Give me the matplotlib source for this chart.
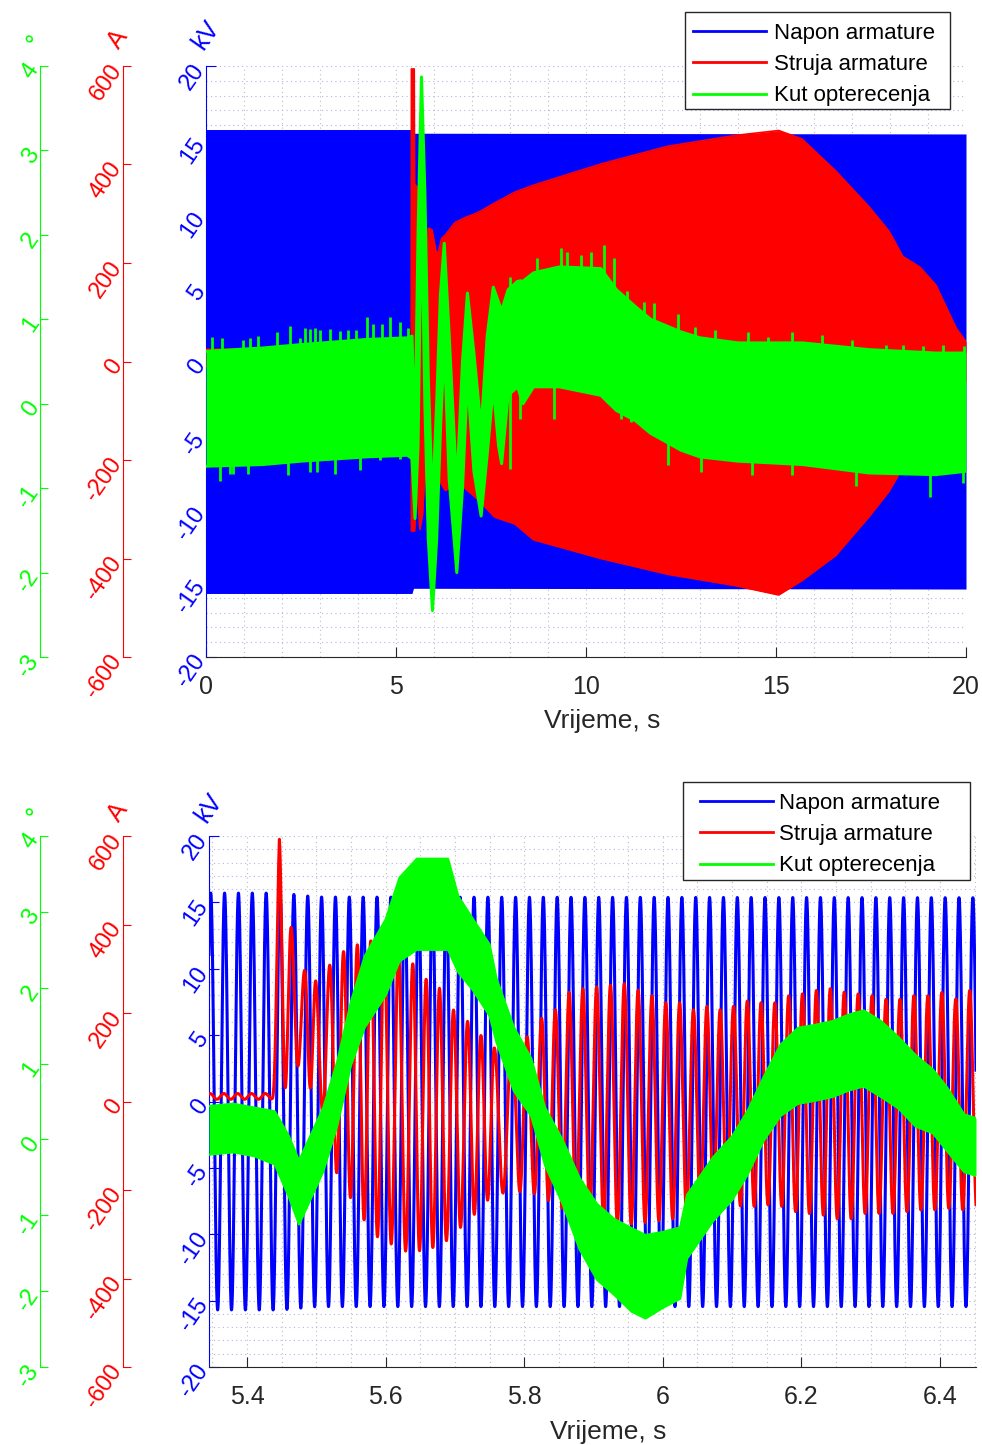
import numpy as np
import matplotlib.pyplot as plt
from matplotlib.lines import Line2D
from matplotlib.patches import Rectangle
from matplotlib.ticker import MultipleLocator

plt.rcParams['font.family'] = ['Liberation Sans', 'DejaVu Sans']

BLUE = '#0000ff'
RED = '#ff0000'
GREEN = '#00ff00'
INK = '#262626'

# ---------------- top panel, 0..20 s (envelopes of the dense traces)
v_t = [0, 5.42, 5.46, 20]
v_hi = [15.7, 15.7, 15.45, 15.4]
v_lo = [-15.7, -15.7, -15.35, -15.4]

i_t = [0, 5.40, 5.405, 5.48, 5.49, 5.55, 5.63, 5.70, 5.76, 5.85, 5.95, 6.05, 6.11, 6.20, 6.30,
       6.55, 6.81, 7.08, 7.24, 7.60, 8.13, 8.62, 10.39, 12.15, 13.92, 15.07, 15.68, 16.57,
       17.45, 17.97, 18.34, 18.78, 19.21, 19.74, 20.0]
i_hi = [25, 25, 594, 594, 360, 355, 330, 240, 150, 271, 267, 225, 220, 250, 257,
        282, 292, 300, 306, 322, 344, 358, 401, 437, 459, 469, 452, 387,
        314, 265, 213, 192, 155, 68, 40]
i_lo = [-10, -10, -344, -344, -344, -260, -341, -310, -230, -250, -277, -245, -235, -250, -262,
        -252, -257, -275, -287, -316, -330, -362, -400, -432, -455, -474, -445, -394,
        -315, -264, -215, -170, -120, -60, -40]

d_t = [0, 1.5, 2.5, 4.2, 5.3, 5.42, 5.5, 5.58, 5.67, 5.76, 5.85, 5.96, 6.07, 6.17, 6.27,
       6.4, 6.6, 6.75, 6.88, 7.05, 7.24, 7.4, 7.56, 7.7, 7.78, 7.95, 8.2, 8.34, 8.62, 9.3,
       10.39, 10.8, 11.3, 11.7, 12.5, 13.0, 14.0, 15.7, 17.45, 19.2, 20.0]
d_hi = [0.62, 0.66, 0.70, 0.76, 0.78, 0.80, -0.4, 2.0, 3.87, 2.5, 0.3, -1.2, 0.0, 1.3, 1.9,
        0.8, -1.0, 0.5, 1.31, 0.6, -0.3, 0.8, 1.38, 1.2, 1.1, 1.35, 1.45, 1.45, 1.55, 1.62,
        1.60, 1.35, 1.15, 1.0, 0.85, 0.78, 0.72, 0.72, 0.64, 0.60, 0.60]
d_lo = [-0.74, -0.72, -0.68, -0.63, -0.61, -0.65, -1.36, -0.5, 2.4, 0.0, -1.6, -2.45, -1.6, -0.3, 0.7,
        -0.9, -2.0, -1.0, 0.3, -0.8, -1.33, -0.6, 0.2, -0.5, -0.71, 0.1, 0.2, 0.0, 0.2, 0.2,
        0.10, -0.08, -0.2, -0.35, -0.55, -0.63, -0.68, -0.72, -0.82, -0.84, -0.80]
# single noise spikes sticking out of the load-angle band
d_up_t = [0.15, 0.41, 0.98, 1.16, 1.38, 1.86, 2.21, 2.47, 2.61, 2.74, 2.87, 3.0, 3.26, 3.53,
          3.74, 3.96, 4.23, 4.4, 4.62, 4.84, 5.1, 5.32,
          8.0, 8.27, 8.71, 9.33, 9.5, 9.86, 10.12, 10.47, 10.74, 11.09, 11.53, 11.8, 12.42,
          12.86, 13.39, 14.27, 14.8, 15.42, 16.21, 17.01, 17.89, 18.33, 18.86, 19.39, 19.95]
d_up = [0.79, 0.78, 0.75, 0.78, 0.80, 0.85, 0.92, 0.78, 0.90, 0.88, 0.90, 0.87, 0.88, 0.86,
        0.87, 0.87, 1.03, 0.95, 0.95, 1.03, 0.97, 0.90,
        1.50, 1.48, 1.72, 1.84, 1.80, 1.76, 1.80, 1.88, 1.72, 1.34, 1.21, 1.19, 1.06,
        0.91, 0.87, 0.85, 0.79, 0.85, 0.81, 0.75, 0.70, 0.70, 0.68, 0.70, 0.68]
d_dn_t = [0.37, 0.63, 0.72, 1.11, 2.17, 2.74, 2.91, 3.39, 4.05, 4.58, 5.1,
          8.0, 8.27, 9.15, 10.92, 11.18, 12.15, 13.03, 14.36, 15.42, 17.1, 19.04, 19.92]
d_dn = [-0.92, -0.83, -0.83, -0.83, -0.85, -0.81, -0.81, -0.83, -0.79, -0.67, -0.65,
        -0.77, -0.18, -0.18, -0.18, -0.22, -0.73, -0.81, -0.84, -0.84, -0.98, -1.11, -0.94]

# ---------------- bottom panel, zoom 5.345..6.452 s
f_net = 50.0          # Hz, counted from the voltage peaks
v_peak_t0 = 5.3475    # time of a voltage maximum
bv_t = [5.345, 5.45, 5.50, 6.452]
bv_hi = [15.7, 15.7, 15.4, 15.35]
bv_lo = [-15.7, -15.7, -15.45, -15.45]

# current: upper / lower peaks
bi_hi_t = [5.345, 5.435, 5.4466, 5.4666, 5.4866, 5.4981, 5.5192, 5.5394, 5.5591, 5.5779, 5.5977,
           5.6177, 5.6392, 5.6585, 5.6776, 5.6968, 5.7183, 5.7376, 5.7568, 5.78, 5.803, 5.825,
           5.845, 5.865, 5.885, 5.904, 5.925, 5.944, 5.965, 5.984, 6.004, 6.025, 6.044, 6.064,
           6.083, 6.102, 6.122, 6.143, 6.163, 6.182, 6.201, 6.222, 6.242, 6.262, 6.281, 6.302,
           6.321, 6.342, 6.362, 6.383, 6.402, 6.422, 6.443, 6.452]
bi_hi = [18, 18, 595, 361, 282, 271, 308, 339, 354, 363, 358,
         343, 311, 276, 256, 208, 181, 149, 121, 140, 144, 188,
         207, 247, 255, 259, 263, 267, 251, 239, 223, 223, 207, 215,
         207, 215, 227, 223, 223, 239, 243, 251, 255, 247, 243, 239,
         231, 231, 239, 239, 247, 231, 251, 251]
bi_lo_t = [5.345, 5.435, 5.4566, 5.476, 5.4904, 5.5096, 5.5289, 5.5495, 5.5686, 5.5888, 5.6081,
           5.6269, 5.6463, 5.668, 5.6873, 5.7064, 5.728, 5.7496, 5.78, 5.82, 5.854, 5.895,
           5.914, 5.934, 5.955, 5.975, 5.995, 6.015, 6.035, 6.054, 6.073, 6.094, 6.114, 6.134,
           6.153, 6.172, 6.192, 6.211, 6.233, 6.252, 6.272, 6.291, 6.31, 6.332, 6.351, 6.373,
           6.392, 6.414, 6.434, 6.452]
bi_lo = [5, 5, 33, 87, 33, -26, -160, -218, -267, -307, -322,
         -338, -338, -330, -315, -287, -255, -219, -200, -210, -241, -261,
         -269, -277, -277, -273, -269, -265, -249, -237, -229, -226, -237, -237,
         -233, -237, -249, -253, -257, -265, -265, -253, -253, -253, -249, -245,
         -245, -241, -245, -245]
# how far (s) the current peaks come before the voltage peaks
bi_lead_t = [5.345, 5.447, 5.464, 5.484, 5.50, 5.52, 5.56, 5.60, 5.64, 5.68, 5.72, 5.757,
             5.79, 5.825, 5.90, 6.05, 6.10, 6.20, 6.30, 6.452]
bi_lead = [0.001, 0.0013, 0.0034, 0.0043, 0.009, 0.0083, 0.0084, 0.0098, 0.0083, 0.0099, 0.0092,
           0.0107, 0.004, 0.0025, 0.003, 0.0033, 0.0055, 0.006, 0.0055, 0.0045]

# load angle: centre of the noisy band and its half width
bd_t = [5.345, 5.38, 5.41, 5.44, 5.46, 5.475, 5.49, 5.51, 5.53, 5.55, 5.57, 5.6, 5.62, 5.645,
        5.69, 5.705, 5.725, 5.75, 5.76, 5.785, 5.81, 5.83, 5.855, 5.88, 5.905, 5.93, 5.955,
        5.975, 6.0, 6.025, 6.035, 6.045, 6.073, 6.1, 6.122, 6.146, 6.17, 6.195, 6.22, 6.245,
        6.27, 6.29, 6.315, 6.34, 6.365, 6.39, 6.41, 6.435, 6.452]
bd_mid = [0.12, 0.15, 0.10, 0.02, -0.35, -0.7, -0.4, 0.0, 0.6, 1.4, 1.95, 2.4, 2.9, 3.1,
          3.1, 2.7, 2.45, 2.1, 1.7, 1.06, 0.69, 0.04, -0.42, -0.98, -1.35, -1.55, -1.72,
          -1.81, -1.72, -1.63, -1.15, -1.02, -0.65, -0.38, -0.05, 0.41, 0.78, 0.97, 1.01, 1.06,
          1.15, 1.2, 1.06, 0.88, 0.64, 0.5, 0.27, -0.05, -0.1]
bd_half = [0.32, 0.32, 0.32, 0.35, 0.4, 0.42, 0.42, 0.42, 0.42, 0.42, 0.47, 0.5, 0.55, 0.6,
           0.6, 0.5, 0.47, 0.47, 0.42, 0.42, 0.38, 0.38, 0.42, 0.47, 0.5, 0.5, 0.55,
           0.55, 0.5, 0.47, 0.42, 0.42, 0.42, 0.42, 0.42, 0.42, 0.47, 0.5, 0.5, 0.5,
           0.5, 0.5, 0.5, 0.47, 0.47, 0.42, 0.42, 0.38, 0.38]

legend_labels = ['Napon armature', 'Struja armature', 'Kut opterecenja']
kv_ticks = np.arange(-20, 21, 5)
a_ticks = np.arange(-600, 601, 200)
deg_ticks = np.arange(-3, 5, 1)

W, H = 982, 1445
fig = plt.figure(figsize=(W / 100, H / 100), dpi=100)


def rot_labels(ax):
    for lab in ax.get_yticklabels():
        lab.set_rotation(55)
        lab.set_rotation_mode('anchor')
        lab.set_ha('right')
        lab.set_va('center')


def make_panel(rect, xlim, xmajor, xminor, xticklabels, off_r, off_g, xlab_y):
    ax = fig.add_axes(rect)
    ax.set_axisbelow(True)
    ax_r = ax.twinx()
    ax_g = ax.twinx()
    ax.set_xlim(*xlim)
    ax.set_ylim(-20, 20)
    ax.set_xticks(xmajor)
    ax.set_xticklabels(xticklabels)
    ax.xaxis.set_minor_locator(MultipleLocator(xminor))
    ax.yaxis.set_minor_locator(MultipleLocator(1))
    ax.set_yticks(kv_ticks)
    ax.set_yticklabels([str(v) for v in kv_ticks])
    ax.spines['top'].set_visible(False)
    ax.spines['right'].set_visible(False)
    ax.spines['left'].set_color(BLUE)
    ax.spines['bottom'].set_color(INK)
    ax.tick_params(axis='y', which='major', direction='in', length=7, colors=BLUE,
                   labelsize=17, pad=4)
    ax.tick_params(axis='x', which='major', direction='in', length=7, color=INK,
                   labelcolor=INK, labelsize=18, pad=13)
    ax.tick_params(which='minor', length=0)
    ax.grid(which='both', axis='y', color='#b4b4ec', ls=(0, (1, 3)), lw=0.8)
    ax.grid(which='both', axis='x', color='#bdbdbd', ls=(0, (1, 3)), lw=0.8)
    ax.set_xlabel('Vrijeme, s', fontsize=19, color=INK)
    ax.xaxis.set_label_coords(0.5 + 16 / 760, xlab_y)

    for a, off, col, lim, ticks in [(ax_r, off_r, RED, (-600, 600), a_ticks),
                                    (ax_g, off_g, GREEN, (-3, 4), deg_ticks)]:
        a.set_ylim(*lim)
        a.yaxis.tick_left()
        a.yaxis.set_label_position('left')
        for s in ['top', 'right', 'bottom']:
            a.spines[s].set_visible(False)
        a.spines['left'].set_visible(True)
        a.spines['left'].set_position(('axes', off))
        a.spines['left'].set_color(col)
        a.set_yticks(ticks)
        a.set_yticklabels([str(v) for v in ticks])
        a.tick_params(axis='y', direction='in', length=6, colors=col, labelsize=17, pad=4)
        rot_labels(a)
    rot_labels(ax)

    ax.text(0.0, 1.052, 'kV', transform=ax.transAxes, color=BLUE, fontsize=18,
            rotation=55, ha='center', va='center')
    ax.text(off_r - 0.006, 1.045, 'A', transform=ax.transAxes, color=RED, fontsize=18,
            rotation=55, ha='center', va='center')
    ax.text(off_g - 0.006, 1.04, '°', transform=ax.transAxes, color=GREEN, fontsize=18,
            rotation=55, ha='center', va='center')
    return ax, ax_r, ax_g


def add_legend(box, first_row, pad_text):
    # box = (left, top, right, bottom) in pixels; first_row = (x of line start, y of row centre)
    l, t, r, b = box
    fig.add_artist(Rectangle((l / W, 1 - b / H), (r - l) / W, (b - t) / H,
                             transform=fig.transFigure, fc='white', ec=INK, lw=1.0, zorder=4))
    handles = [Line2D([], [], color=c, lw=2) for c in (BLUE, RED, GREEN)]
    fig.legend(handles, legend_labels, loc='upper left',
               bbox_to_anchor=(first_row[0] / W, 1 - (first_row[1] - 8) / H),
               bbox_transform=fig.transFigure, fontsize=16, frameon=False,
               handlelength=3.3, handletextpad=pad_text, labelspacing=0.46,
               borderpad=0, borderaxespad=0)


# ---------------- top panel
ax1, ax1r, ax1g = make_panel([206 / W, 1 - 657 / H, 760 / W, 591 / H],
                             (0, 20), [0, 5, 10, 15, 20], 1,
                             ['0', '5', '10', '15', '20'], -83 / 760, -166 / 760, -0.088)
ax1.fill_between(v_t, v_lo, v_hi, color=BLUE, lw=0)
ax1r.fill_between(i_t, i_lo, i_hi, color=RED, lw=0)
ax1r.plot(i_t, i_hi, color=RED, lw=1.2)
ax1r.plot(i_t, i_lo, color=RED, lw=1.2)
ax1g.fill_between(d_t, d_lo, d_hi, color=GREEN, lw=0)
ax1g.plot(d_t, d_hi, color=GREEN, lw=2.2)
ax1g.plot(d_t, d_lo, color=GREEN, lw=2.2)
# spikes start inside the band so they stay attached to it
ax1g.vlines(d_up_t, np.interp(d_up_t, d_t, d_lo), d_up, color=GREEN, lw=2)
ax1g.vlines(d_dn_t, d_dn, np.interp(d_dn_t, d_t, d_hi), color=GREEN, lw=2)
add_legend((685, 12, 950, 109), (693, 31), 0.36)

# ---------------- bottom panel
ax2, ax2r, ax2g = make_panel([209 / W, 1 - 1367 / H, 767 / W, 531 / H],
                             (5.345, 6.452), [5.4, 5.6, 5.8, 6.0, 6.2, 6.4], 0.05,
                             ['5.4', '5.6', '5.8', '6', '6.2', '6.4'], -86 / 767, -169 / 767,
                             -0.0998)
t = np.linspace(5.345, 6.452, 9000)
ph_v = 2 * np.pi * f_net * (t - v_peak_t0)
hv = np.interp(t, bv_t, bv_hi)
lv = np.interp(t, bv_t, bv_lo)
ax2.plot(t, lv + (hv - lv) * (1 + np.cos(ph_v)) / 2, color=BLUE, lw=2.2)

lead = np.interp(t, bi_lead_t, bi_lead)
hi = np.interp(t, bi_hi_t, bi_hi)
lo = np.interp(t, bi_lo_t, bi_lo)
ph_i = 2 * np.pi * f_net * (t - v_peak_t0 + lead)
ax2r.plot(t, lo + (hi - lo) * (1 + np.cos(ph_i)) / 2, color=RED, lw=2.2)

mid = np.array(bd_mid)
half = np.array(bd_half)
ax2g.fill_between(bd_t, mid - half, mid + half, color=GREEN, lw=0)
ax2g.plot(bd_t, mid + half, color=GREEN, lw=1.6)
ax2g.plot(bd_t, mid - half, color=GREEN, lw=1.6)
add_legend((683, 782, 970, 880), (700, 801), 0.27)

fig.savefig('out.png', dpi=100)
